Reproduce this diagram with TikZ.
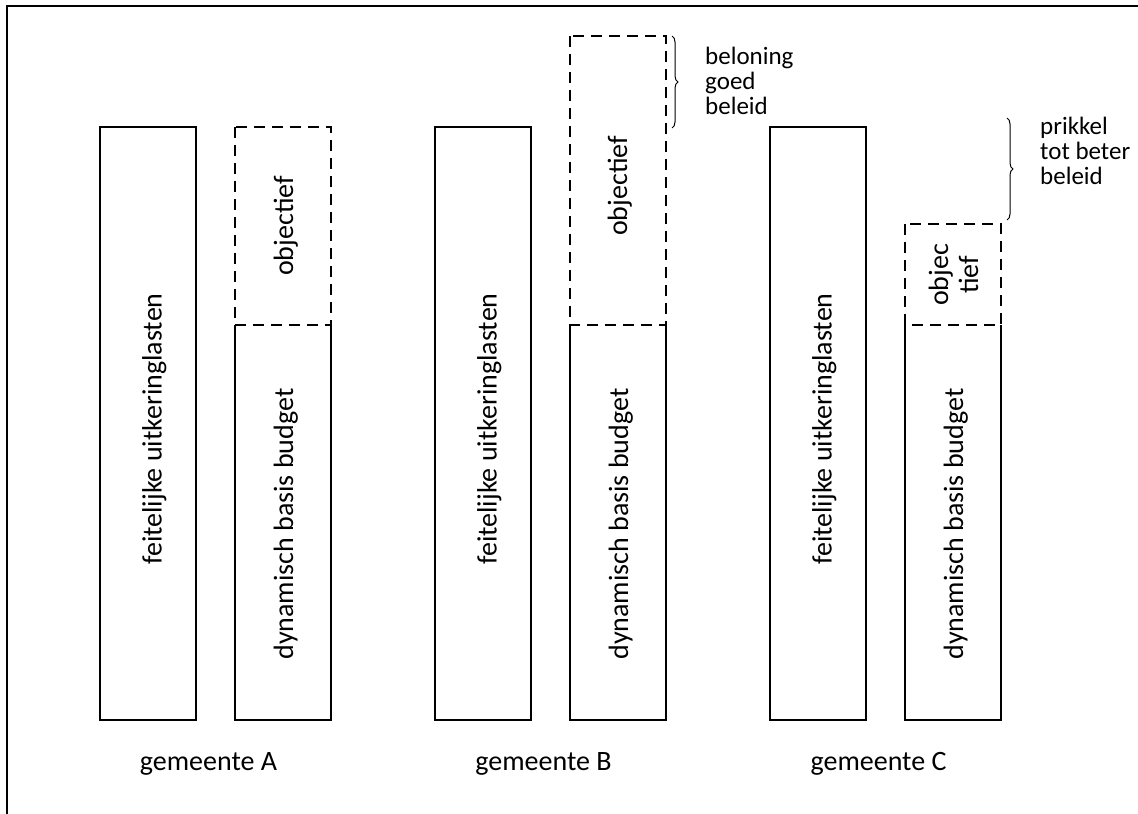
\documentclass[tikz,border=0pt]{standalone}
\usepackage{fontspec}
\setmainfont{Carlito}
\usetikzlibrary{decorations.pathreplacing}
\begin{document}
\begin{tikzpicture}[x=1pt,y=-1pt,
  solidline/.style={line width=1.5pt},
  dashline/.style={line width=1.5pt, dash pattern=on 11pt off 7pt},
  lbl/.style={font=\fontsize{28}{30}\selectfont, inner sep=0pt},
  vlbl/.style={lbl, rotate=90, anchor=base},
  bracelbl/.style={font=\fontsize{25}{25}\selectfont, align=left, anchor=west, inner sep=0pt},
  bracestyle/.style={line width=1pt, decorate, decoration={brace, amplitude=6pt}}]
\useasboundingbox (0,0) rectangle (1138,814);
% frame
\draw[line width=2pt] (7,814) -- (7,5.5) -- (1138,5.5);

% ---------- gemeente A ----------
\draw[solidline] (100,127) rectangle (196,720);
\node[vlbl] (fA) at (161.5,429) {feitelijke uitkeringlasten};
\draw[solidline] (235,325) -- (235,720) -- (331,720) -- (331,325);
\draw[dashline] (235,127) rectangle (331,325);
\node[vlbl] (oA) at (293,226) {objectief};
\node[vlbl] (dA) at (293,524) {dynamisch basis budget};
\node[lbl, anchor=base] (gA) at (208.5,770) {gemeente A};

% ---------- gemeente B ----------
\draw[solidline] (435,127) rectangle (531,720);
\node[vlbl] (fB) at (496.5,429) {feitelijke uitkeringlasten};
\draw[solidline] (570,325) -- (570,720) -- (666,720) -- (666,325);
\draw[dashline] (570,36) rectangle (666,325);
\node[vlbl] (oB) at (627,186) {objectief};
\node[vlbl] (dB) at (628,524) {dynamisch basis budget};
\node[lbl, anchor=base] (gB) at (543.5,770) {gemeente B};
\draw[bracestyle] (672,36) -- (672,128);
\node[bracelbl] (bB) at (705,80.5) {beloning\\goed\\beleid};

% ---------- gemeente C ----------
\draw[solidline] (770,127) rectangle (866,720);
\node[vlbl] (fC) at (831.5,429) {feitelijke uitkeringlasten};
\draw[solidline] (905,325) -- (905,720) -- (1001,720) -- (1001,325);
\draw[dashline] (905,224) rectangle (1001,325);
\node[lbl, rotate=90, align=center] (oC) at (953.5,275) {objec\\tief};
\node[vlbl] (dC) at (963,524) {dynamisch basis budget};
\node[lbl, anchor=base] (gC) at (878.5,770) {gemeente C};
\draw[bracestyle] (1007,118) -- (1007,220);
\node[bracelbl] (bC) at (1040,150.5) {prikkel\\tot beter\\beleid};
\end{tikzpicture}
\end{document}
